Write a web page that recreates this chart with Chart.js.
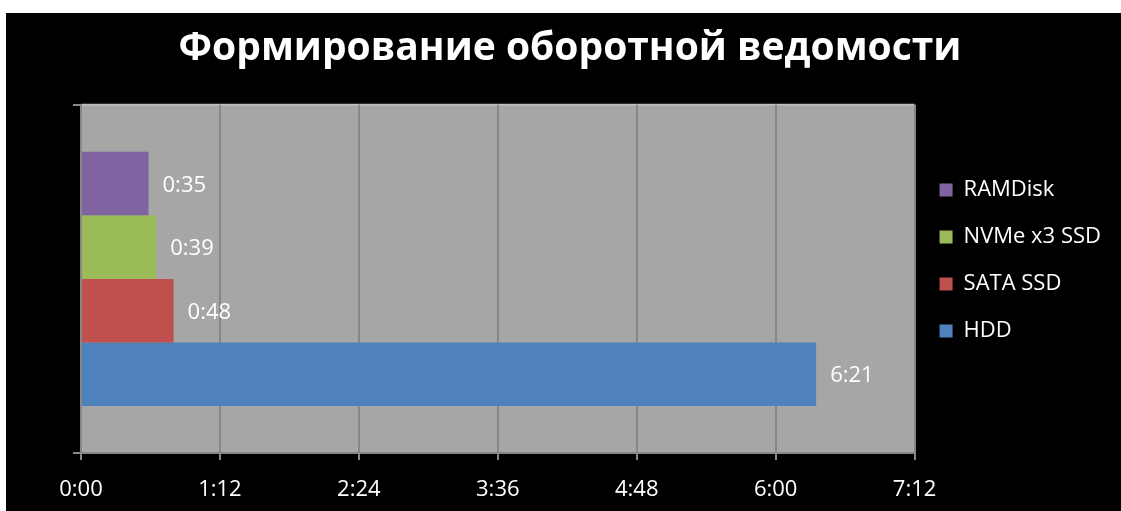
<!DOCTYPE html>
<html>
<head>
<meta charset="utf-8">
<script src="https://cdn.jsdelivr.net/npm/chart.js@4/dist/chart.umd.min.js"></script>
<style>
  html, body { margin: 0; padding: 0; background: #ffffff; overflow: hidden; }
  #wrap {
    position: absolute;
    left: 6px; top: 13px;
    width: 1115px; height: 507px;
    background: #000000;
  }
</style>
</head>
<body>
<div id="wrap"><canvas id="reportChart"></canvas></div>
<script>
// Time to build the turnover report, seconds
const categories = [''];
const seriesNames = ['RAMDisk', 'NVMe x3 SSD', 'SATA SSD', 'HDD'];
const seriesSeconds = [35, 39, 48, 381];
const seriesColors = ['#8064a2', '#9bbb59', '#c0504d', '#4f81bd'];
const tickSeconds = [0, 72, 144, 216, 288, 360, 432];

// 381 -> "6:21"
function asMinutes(sec) {
    const m = Math.floor(sec / 60);
    const s = Math.round(sec % 60);
    return m + ':' + String(s).padStart(2, '0');
}

const FONT = '"Open Sans", "DejaVu Sans", sans-serif';

// Gray plot area behind grid and bars
const plotBackground = {
    id: 'plotBackground',
    beforeDraw(chart) {
        const a = chart.chartArea;
        const ctx = chart.ctx;
        ctx.save();
        ctx.fillStyle = '#a6a6a6';
        ctx.fillRect(a.left, a.top, a.right - a.left, a.bottom - a.top);
        ctx.strokeStyle = '#bdbdbd';
        ctx.lineWidth = 2;
        ctx.beginPath();
        ctx.moveTo(a.left, a.top);
        ctx.lineTo(a.right, a.top);
        ctx.stroke();
        ctx.restore();
    }
};

// Lift the legend column a little above the vertical center
const legendNudge = {
    id: 'legendNudge',
    afterLayout(chart) {
        chart.legend.top -= 6;
        chart.legend.bottom -= 6;
    }
};

// Value text just past the end of each bar
const barValues = {
    id: 'barValues',
    afterDatasetsDraw(chart) {
        const ctx = chart.ctx;
        ctx.save();
        ctx.fillStyle = '#ffffff';
        ctx.font = '22px ' + FONT;
        ctx.textAlign = 'left';
        ctx.textBaseline = 'middle';
        chart.data.datasets.forEach((ds, i) => {
            chart.getDatasetMeta(i).data.forEach((bar, j) => {
                ctx.fillText(asMinutes(ds.data[j]), bar.x + 14, bar.y + 2);
            });
        });
        ctx.restore();
    }
};

const ctx = document.getElementById('reportChart').getContext('2d');

new Chart(ctx, {
    type: 'bar',
    data: {
        labels: categories,
        datasets: seriesNames.map((name, i) => ({
            label: name,
            data: [seriesSeconds[i]],
            backgroundColor: seriesColors[i],
            borderWidth: 0,
            categoryPercentage: 0.73,
            barPercentage: 1.0
        }))
    },
    options: {
        indexAxis: 'y',
        responsive: true,
        maintainAspectRatio: false,
        animation: false,
        layout: {
            padding: { left: 23, right: 10, top: 0, bottom: 0 }
        },
        scales: {
            x: {
                min: 0,
                max: 432,
                afterBuildTicks(scale) {
                    scale.ticks = tickSeconds.map(v => ({ value: v }));
                },
                ticks: {
                    color: '#ffffff',
                    font: { family: FONT, size: 22, lineHeight: 1 },
                    padding: 19,
                    maxRotation: 0,
                    callback: v => asMinutes(v)
                },
                grid: {
                    color: '#878787',
                    lineWidth: 2,
                    tickLength: 7
                },
                border: { color: '#878787', width: 2 }
            },
            y: {
                afterFit(scale) {
                    scale.width = 52;
                },
                ticks: { display: false },
                grid: {
                    offset: true,
                    drawOnChartArea: false,
                    color: '#878787',
                    lineWidth: 2,
                    tickLength: 8
                },
                border: { color: '#878787', width: 2 }
            }
        },
        plugins: {
            title: {
                display: true,
                text: 'Формирование оборотной ведомости',
                color: '#ffffff',
                font: { family: FONT, size: 39, weight: 'bold' },
                padding: { top: 12, bottom: 33 }
            },
            legend: {
                position: 'right',
                labels: {
                    color: '#ffffff',
                    font: { family: FONT, size: 22 },
                    boxWidth: 13,
                    boxHeight: 13,
                    padding: 25
                }
            },
            tooltip: { enabled: false }
        }
    },
    plugins: [plotBackground, legendNudge, barValues]
});
</script>
</body>
</html>
